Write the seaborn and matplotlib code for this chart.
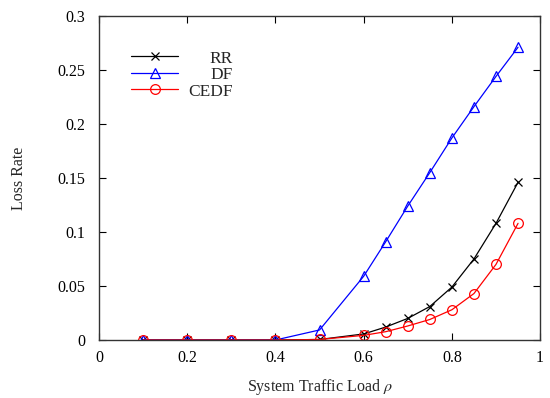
import numpy as np
import pandas as pd
import matplotlib
matplotlib.use("Agg")
import matplotlib.pyplot as plt
import seaborn as sns

# traffic load values and loss rates
load = [0.1, 0.2, 0.3, 0.4, 0.5, 0.6, 0.65, 0.7, 0.75, 0.8, 0.85, 0.9, 0.95]
rr = [0.0, 0.0, 0.0, 0.0, 0.0005, 0.0056, 0.012, 0.020, 0.031, 0.049, 0.075, 0.108, 0.146]
df_ = [0.0, 0.0, 0.0, 0.0, 0.0093, 0.059, 0.091, 0.124, 0.155, 0.187, 0.216, 0.244, 0.271]
cedf = [0.0, 0.0, 0.0, 0.0, 0.0005, 0.0043, 0.0077, 0.013, 0.019, 0.028, 0.043, 0.070, 0.108]

series = ["RR", "DF", "CEDF"]
colors = {"RR": "black", "DF": "blue", "CEDF": "red"}
markers = {"RR": "x", "DF": "^", "CEDF": "o"}

data = pd.DataFrame({
    "load": load * 3,
    "loss": rr + df_ + cedf,
    "scheme": ["RR"] * len(load) + ["DF"] * len(load) + ["CEDF"] * len(load),
})

sns.set_theme(style="ticks")
plt.rcParams["font.family"] = ["Liberation Serif", "DejaVu Serif"]
plt.rcParams["mathtext.fontset"] = "stix"

fig = plt.figure(figsize=(5.5, 3.98), dpi=100)
ax = fig.add_axes([0.18, 0.1457, 0.802, 0.8143])

for name in series:
    sub = data[data["scheme"] == name]
    sns.lineplot(data=sub, x="load", y="loss", ax=ax, color=colors[name],
                 marker=markers[name], markersize=7 if name != "RR" else 6,
                 markerfacecolor="none", markeredgecolor=colors[name],
                 markeredgewidth=0.9, linewidth=0.9, label=name)

ax.set_xlim(0, 1)
ax.set_ylim(0, 0.3)
ax.set_xticks([0, 0.2, 0.4, 0.6, 0.8, 1.0])
ax.set_xticklabels(["0", "0.2", "0.4", "0.6", "0.8", "1"])
ax.set_yticks([0, 0.05, 0.1, 0.15, 0.2, 0.25, 0.3])
ax.set_yticklabels(["0", "0.05", "0.1", "0.15", "0.2", "0.25", "0.3"])
ax.tick_params(direction="in", length=5, width=0.8, top=True, right=True,
               labelsize=11.5, colors="black")
ax.tick_params(axis="y", pad=10)
ax.tick_params(axis="x", pad=7)
for sp in ax.spines.values():
    sp.set_visible(True)
    sp.set_color("#333333")
    sp.set_linewidth(1.0)

ax.set_xlabel("System Traffic Load $\\rho$", fontsize=11.5, labelpad=8)
ax.set_ylabel("Loss Rate", fontsize=11.5, labelpad=22)

leg = ax.legend(loc="upper left", bbox_to_anchor=(0.057, 0.915), frameon=False,
                handlelength=2.7, handletextpad=0.6, labelspacing=0.02,
                fontsize=12.5, borderaxespad=0)

# right-align legend labels like the original
fig.canvas.draw()
r = fig.canvas.get_renderer()
texts = leg.get_texts()
widths = [t.get_window_extent(r).width for t in texts]
wmax = max(widths)
for t, w in zip(texts, widths):
    t.set_x(wmax - w)

fig.savefig("out.png", dpi=100)
